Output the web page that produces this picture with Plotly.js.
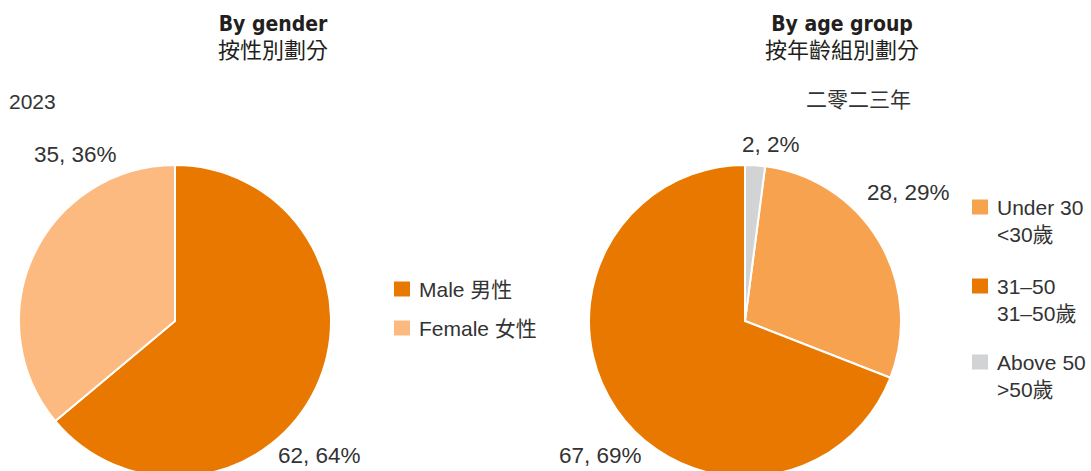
<!DOCTYPE html>
<html>
<head>
<meta charset="utf-8">
<script src="https://cdn.plot.ly/plotly-3.0.1.min.js"></script>
<style>
  html, body { margin: 0; padding: 0; background: #fff; overflow: hidden; }
  #chart { width: 1091px; height: 480px; }
</style>
</head>
<body>
<div id="chart"></div>
<script>
// ---- data ----
const genderLabels = ['Male 男性', 'Female 女性'];
const genderValues = [62, 35];
const genderColors = ['#E87800', '#FDBA80'];

const ageLabels = ['Under 30', '31–50', 'Above 50'];
const ageLabelsZh = ['<30歲', '31–50歲', '>50歲'];
const ageValues = [28, 67, 2];
const ageColors = ['#F7A24F', '#E87800', '#D1D3D4'];

const titleLeft = ['By gender', '按性別劃分'];
const titleRight = ['By age group', '按年齡組別劃分'];
const yearLeft = '2023';
const yearRight = '二零二三年';

// ---- helpers ----
const W = 1091, H = 480;
const px = x => x / W;
const py = y => 1 - y / H;
const FONT = 'Liberation Sans, Arial, Noto Sans CJK TC, sans-serif';
const TXT = '#333333';

const sum = a => a.reduce((s, v) => s + v, 0);
const gTotal = sum(genderValues);
const aTotal = sum(ageValues);
const lbl = (v, t) => v + ', ' + Math.round(v / t * 100) + '%';

const traces = [
  {
    type: 'pie',
    labels: genderLabels,
    values: genderValues,
    sort: false,
    direction: 'clockwise',
    rotation: 0,
    marker: { colors: genderColors, line: { color: '#ffffff', width: 2 } },
    textinfo: 'none',
    hoverinfo: 'label+value+percent',
    showlegend: false,
    domain: { x: [px(19), px(331)], y: [py(477), py(165)] }
  },
  {
    type: 'pie',
    labels: ageLabels,
    values: ageValues,
    sort: false,
    direction: 'clockwise',
    rotation: ageValues[2] / aTotal * 360,
    marker: { colors: ageColors, line: { color: '#ffffff', width: 2 } },
    textinfo: 'none',
    hoverinfo: 'label+value+percent',
    showlegend: false,
    domain: { x: [px(589), px(901)], y: [py(477), py(165)] }
  }
];

const annotations = [];
const shapes = [];
function addText(text, x, y, size, xanchor, extra) {
  annotations.push(Object.assign({
    text: text, x: px(x), y: py(y), xref: 'paper', yref: 'paper',
    xanchor: xanchor || 'center', yanchor: 'middle', showarrow: false,
    align: xanchor === 'left' ? 'left' : 'center',
    font: { family: FONT, size: size, color: TXT }
  }, extra || {}));
}

// titles
const titleFont = { family: 'DejaVu Sans Condensed, Liberation Sans Narrow, Noto Sans CJK TC, sans-serif', size: 21, color: '#231F20' };
const mkTitle = t => '<b>' + t[0] + '</b><br><span style="font-size:22px">' + t[1] + '</span>';
addText(mkTitle(titleLeft), 273, 38, 21, 'center', { font: titleFont });
addText(mkTitle(titleRight), 842, 38, 21, 'center', { font: titleFont });

// year labels
addText(yearLeft, 7, 101, 21, 'left');
addText(yearRight, 858, 99, 21, 'center');

// data labels
addText(lbl(genderValues[1], gTotal), 75, 154, 22.5);
addText(lbl(genderValues[0], gTotal), 319, 455, 22.5);
addText(lbl(ageValues[2], aTotal), 771, 145, 22.5);
addText(lbl(ageValues[0], aTotal), 908, 192, 22.5);
addText(lbl(ageValues[1], aTotal), 600, 455, 22.5);

// gender legend
const gLegY = [289, 328];
genderLabels.forEach((l, i) => {
  shapes.push({ type: 'rect', xref: 'paper', yref: 'paper',
    x0: px(394), x1: px(410), y0: py(gLegY[i] + 7.5), y1: py(gLegY[i] - 7.5),
    fillcolor: genderColors[i], line: { width: 0 } });
  addText(l, 417, gLegY[i], 21, 'left');
});

// age legend
const aLegY = [207, 286, 362];
ageLabels.forEach((l, i) => {
  shapes.push({ type: 'rect', xref: 'paper', yref: 'paper',
    x0: px(972), x1: px(988), y0: py(aLegY[i] + 7.5), y1: py(aLegY[i] - 7.5),
    fillcolor: ageColors[i], line: { width: 0 } });
  addText(l + '<br>' + ageLabelsZh[i], 995, aLegY[i] + 13.5, 21, 'left');
});

const layout = {
  width: W, height: H,
  margin: { l: 0, r: 0, t: 0, b: 0 },
  paper_bgcolor: '#ffffff',
  showlegend: false,
  font: { family: FONT, color: TXT },
  annotations: annotations,
  shapes: shapes
};

Plotly.newPlot('chart', traces, layout, { displayModeBar: false, staticPlot: true });
</script>
</body>
</html>
